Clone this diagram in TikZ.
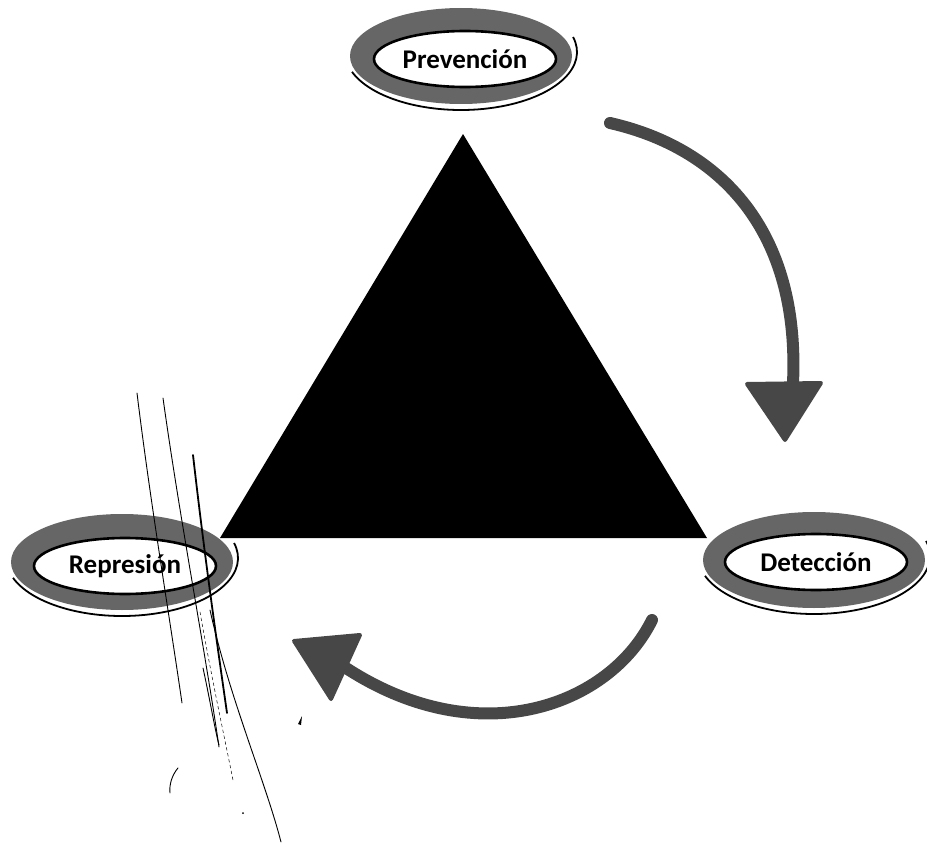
\documentclass[tikz,border=0pt]{standalone}
\usepackage{fontspec}
\setmainfont{Carlito}
\usetikzlibrary{shapes.geometric,calc}
\begin{document}
\begin{tikzpicture}[x=1pt,y=-1pt,
  ring/.style={fill=black!60},
  innerell/.style={ellipse, draw=black, line width=2.6pt, fill=white, inner sep=0pt,
    minimum width=182pt, minimum height=56pt, font=\bfseries\fontsize{27}{32}\selectfont},
  swoosh/.style={draw=black, line width=1.8pt},
  flow/.style={draw=black!72, line width=12pt, line cap=round},
  head/.style={fill=black!72, draw=black!72, line width=4pt, line join=round},
  scribble/.style={draw=black, line width=0.9pt, line cap=round}]
\useasboundingbox (0,0) rectangle (927,843);

% triangle
\coordinate (tA) at (463,134);
\coordinate (tL) at (220,538);
\coordinate (tR) at (707,538);
\fill[black] (tA) -- (tL) -- (tR) -- cycle;

% ellipse centres
\coordinate (cP) at (461,56);
\coordinate (cR) at (122,562);
\coordinate (cD) at (814,560);

% decorated rings
\foreach \c in {cP,cR,cD}{
  \fill[ring] (\c) ellipse [x radius=111pt, y radius=48pt];
  \draw[swoosh] (\c) ++(0pt,4pt) ++(200:116pt and 58pt)
     arc [start angle=200, end angle=375, x radius=116pt, y radius=58pt];
}

\node[innerell] (prev) at ($(cP)+(4,3)$) {Prevención};
\node[innerell] (repr) at ($(cR)+(3,4)$) {Represión};
\node[innerell] (dete) at ($(cD)+(2,2)$) {Detección};

% arrow 1 : Prevencion -> Deteccion
\coordinate (a1s) at (610,123);
\coordinate (a1e) at (793,383);
\draw[flow] (a1s) .. controls (720,148) and (800,230) .. (a1e);
\filldraw[head] (747,384) -- (821,383) -- (785,440) -- cycle;

% arrow 2 : Deteccion -> Represion
\coordinate (a2s) at (652,620);
\coordinate (a2e) at (346,668);
\draw[flow] (a2s) .. controls (610,705) and (480,755) .. (a2e);
\filldraw[head] (294,641) -- (360,635) -- (331,699) -- cycle;

% hand-drawn pen strokes
\draw[scribble] (137,393) .. controls (150,500) and (170,620) .. (182,703);
\draw[scribble] (163,398) .. controls (180,520) and (205,650) .. (219,747);
\draw[scribble, line width=1.8pt] (193,455) .. controls (205,560) and (218,650) .. (227,713);
\draw[scribble] (210,610) .. controls (230,700) and (265,780) .. (281,842);
\draw[scribble, line width=0.5pt, dashed] (200,612) .. controls (212,680) and (225,740) .. (233,780);
\draw[scribble] (203,668) .. controls (210,700) and (215,730) .. (219,745);
\draw[scribble] (178,768) .. controls (172,775) and (169,785) .. (170,793);
\fill[black] (298,724) -- (302,716) -- (301,725) -- cycle;
\fill[black] (243,813) circle [radius=1pt];
\end{tikzpicture}
\end{document}
